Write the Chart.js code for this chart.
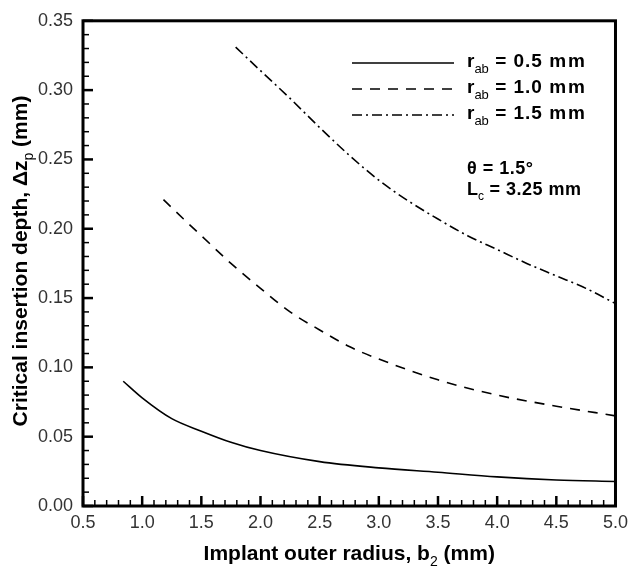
<!DOCTYPE html>
<html>
<head>
<meta charset="utf-8">
<script src="https://cdn.jsdelivr.net/npm/chart.js@4.4.0/dist/chart.umd.min.js"></script>
<style>
html,body{margin:0;padding:0;background:#fff;}
#wrap{width:634px;height:567px;position:relative;}
</style>
</head>
<body>
<div id="wrap"><canvas id="c" width="634" height="567"></canvas></div>
<script>
// ---- data ----
const xTicks = [0.5, 1.0, 1.5, 2.0, 2.5, 3.0, 3.5, 4.0, 4.5, 5.0];
const yTicks = [0.00, 0.05, 0.10, 0.15, 0.20, 0.25, 0.30, 0.35];

const seriesNames = ["0.5", "1.0", "1.5"];

const x_rab05 = [0.84, 1.0, 1.25, 1.5, 1.75, 2.0, 2.5, 3.0, 3.5, 4.0, 4.5, 5.0];
const y_rab05 = [0.090, 0.078, 0.063, 0.054, 0.046, 0.040, 0.032, 0.0275, 0.0243, 0.021, 0.0188, 0.0177];

const x_rab10 = [1.18, 1.35, 1.5, 1.75, 2.0, 2.25, 2.5, 2.75, 3.0, 3.5, 4.0, 4.5, 5.0];
const y_rab10 = [0.221, 0.207, 0.195, 0.175, 0.157, 0.140, 0.127, 0.115, 0.106, 0.091, 0.080, 0.072, 0.065];

const x_rab15 = [1.79, 2.0, 2.25, 2.5, 2.75, 3.0, 3.25, 3.5, 3.75, 4.0, 4.25, 4.5, 4.75, 5.0];
const y_rab15 = [0.331, 0.314, 0.294, 0.273, 0.253, 0.235, 0.220, 0.207, 0.195, 0.185, 0.175, 0.166, 0.157, 0.146];

const dashes = [[], [10, 8], [10, 4, 2, 4]];

function pts(xs, ys){ return xs.map((x,i)=>({x:x, y:ys[i]})); }

const FONT = '"Liberation Sans", Arial, sans-serif';

function drawRich(ctx, parts, x, y, align){
  // parts: [{t, sub, size, bold, ls}]
  let total = 0;
  const setF = p => {
    ctx.font = (p.bold?'bold ':'') + p.size + 'px ' + FONT;
    ctx.letterSpacing = (p.ls || 0) + 'px';
  };
  const widths = parts.map(p=>{
    setF(p);
    const w = ctx.measureText(p.t).width;
    total += w; return w;
  });
  let cx = align === 'center' ? x - total/2 : (align === 'right' ? x - total : x);
  parts.forEach((p,i)=>{
    setF(p);
    ctx.textAlign = 'left';
    ctx.textBaseline = 'alphabetic';
    ctx.fillText(p.t, cx, y + (p.sub ? p.size*0.45 : 0));
    cx += widths[i];
  });
  ctx.letterSpacing = '0px';
}

const decor = {
  id: 'decor',
  afterDraw(chart){
    const ctx = chart.ctx;
    const xs = chart.scales.x, ys = chart.scales.y;
    const a = chart.chartArea;
    ctx.save();
    ctx.strokeStyle = '#000';
    ctx.fillStyle = '#000';
    // minor / major ticks (inward) on bottom and left
    for (let k = 0; k <= 45; k++){
      const v = 0.5 + k*0.1;
      const px = xs.getPixelForValue(v);
      const major = k % 5 === 0;
      ctx.lineWidth = major ? 2.5 : 1.5;
      ctx.beginPath();
      ctx.moveTo(px, a.bottom);
      ctx.lineTo(px, a.bottom - (major ? 10 : 6));
      ctx.stroke();
    }
    for (let k = 0; k <= 35; k++){
      const v = k*0.01;
      const py = ys.getPixelForValue(v);
      const major = k % 5 === 0;
      ctx.lineWidth = major ? 2.5 : 1.5;
      ctx.beginPath();
      ctx.moveTo(a.left, py);
      ctx.lineTo(a.left + (major ? 10 : 6), py);
      ctx.stroke();
    }
    // frame
    ctx.lineWidth = 3;
    ctx.strokeRect(a.left, a.top, a.right - a.left, a.bottom - a.top);

    // legend
    const lx0 = 352, lx1 = 454, tx = 467;
    const rows = [63, 89, 115];
    chart.data.datasets.forEach((ds, i)=>{
      ctx.lineWidth = 1.5;
      ctx.setLineDash(ds.borderDash || []);
      ctx.beginPath();
      ctx.moveTo(lx0, rows[i]);
      ctx.lineTo(lx1, rows[i]);
      ctx.stroke();
      ctx.setLineDash([]);
      drawRich(ctx, [
        {t:'r', size:19, bold:true},
        {t:'ab', size:13, bold:false, sub:true},
        {t:' = ' + seriesNames[i] + ' ', size:19, bold:true, ls:1},
        {t:'mm', size:19, bold:true, ls:2}
      ], tx, rows[i] + 4, 'left');
    });
    // annotation
    drawRich(ctx, [{t:'\u03B8 = 1.5\u00B0', size:18, bold:true, ls:0.5}], tx, 174, 'left');
    drawRich(ctx, [
      {t:'L', size:18, bold:true},
      {t:'c', size:12, bold:false, sub:true},
      {t:' = 3.25 mm', size:18, bold:true, ls:0.5}
    ], tx, 195, 'left');

    // x title
    drawRich(ctx, [
      {t:'Implant outer radius, b', size:21, bold:true},
      {t:'2', size:14, bold:false, sub:true},
      {t:' (mm)', size:21, bold:true}
    ], (a.left + a.right)/2, 560, 'center');

    // y title
    ctx.save();
    ctx.translate(27, 261);
    ctx.rotate(-Math.PI/2);
    drawRich(ctx, [
      {t:'Critical insertion depth, \u0394z', size:21, bold:true},
      {t:'p', size:14, bold:false, sub:true},
      {t:' (mm)', size:21, bold:true}
    ], 0, 0, 'center');
    ctx.restore();

    ctx.restore();
  }
};

const datasets = [
  {data: pts(x_rab05, y_rab05), borderDash: dashes[0]},
  {data: pts(x_rab10, y_rab10), borderDash: dashes[1]},
  {data: pts(x_rab15, y_rab15), borderDash: dashes[2]}
].map(d=>Object.assign({
  showLine: true, pointRadius: 0, borderColor: '#000', borderWidth: 1.6,
  cubicInterpolationMode: 'monotone', fill: false
}, d));

new Chart(document.getElementById('c'), {
  type: 'scatter',
  data: { datasets },
  options: {
    responsive: false,
    animation: false,
    devicePixelRatio: 1,
    layout: { padding: { left: 0, right: 14, top: 20, bottom: 0 } },
    plugins: { legend: {display:false}, tooltip: {enabled:false} },
    scales: {
      x: {
        type: 'linear', min: 0.5, max: 5.0,
        afterBuildTicks(s){ s.ticks = xTicks.map(v=>({value:v})); },
        afterFit(s){ s.height = 61; },
        grid: { display: false, drawTicks: false },
        border: { display: false },
        ticks: { padding: 6, color: '#333', font: { family: FONT, size: 18 },
          callback: v => Number(v).toFixed(1) }
      },
      y: {
        type: 'linear', min: 0, max: 0.35,
        afterBuildTicks(s){ s.ticks = yTicks.map(v=>({value:v})); },
        afterFit(s){ s.width = 83; },
        grid: { display: false, drawTicks: false },
        border: { display: false },
        ticks: { padding: 10, color: '#333', font: { family: FONT, size: 18 },
          callback: v => Number(v).toFixed(2) }
      }
    }
  },
  plugins: [decor]
});
</script>
</body>
</html>
